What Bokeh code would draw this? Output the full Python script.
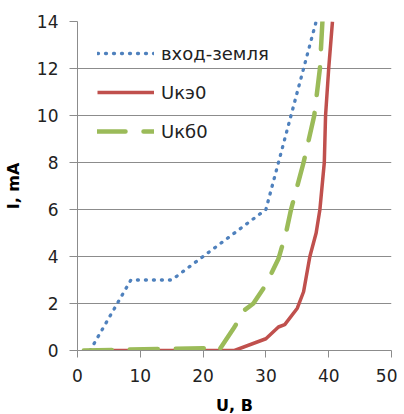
from bokeh.plotting import figure
from bokeh.models import Legend, LegendItem, FixedTicker, Range1d
from bokeh.embed import file_html
from bokeh.resources import INLINE

# ---- data ----
gnd_u = [2, 8.5, 15, 30, 38]
gnd_i = [0, 3, 3, 6, 14]

uke_u = [5, 25, 30, 32, 33, 35, 36, 37, 38, 38.6, 39.3, 39.5, 40, 40.6]
uke_i = [0, 0, 0.5, 1, 1.1, 1.8, 2.5, 4, 5, 6, 8, 10, 12, 14]

ukb_u = [1, 20, 22.5, 25, 26.5, 28, 30, 32, 33.2, 34, 36, 37.7, 38.6, 39]
ukb_i = [0, 0.1, 0, 1, 1.7, 2, 2.8, 3.9, 5, 6, 8, 10, 12, 14]

labels = ["вход-земля", "Uкэ0", "Uкб0"]
x_ticks = [0, 10, 20, 30, 40, 50]
y_ticks = [0, 2, 4, 6, 8, 10, 12, 14]

FONT = "DejaVu Sans"
GRID = "#8c8c8c"

p = figure(frame_width=314, frame_height=329, output_backend="svg",
           toolbar_location=None, x_range=Range1d(0, 50), y_range=Range1d(0, 14),
           min_border_left=66, min_border_top=21, min_border_right=6,
           min_border_bottom=50)
p.outline_line_color = None
p.background_fill_color = "white"
p.border_fill_color = "white"

r1 = p.line(gnd_u, gnd_i, line_color="#4F81BD", line_width=3.3,
            line_dash="1 7", line_cap="round")
r2 = p.line(uke_u, uke_i, line_color="#C0504D", line_width=3.5,
            line_join="round")
r3 = p.line(ukb_u, ukb_i, line_color="#9BBB59", line_width=4.5,
            line_dash="28 18", line_cap="round", line_join="round")

p.xgrid.visible = False
p.ygrid.grid_line_color = GRID
p.ygrid.grid_line_width = 1
p.ygrid.ticker = FixedTicker(ticks=y_ticks)

p.xaxis.ticker = FixedTicker(ticks=x_ticks)
p.yaxis.ticker = FixedTicker(ticks=y_ticks)
for ax in (p.xaxis[0], p.yaxis[0]):
    ax.axis_line_color = GRID
    ax.major_tick_line_color = GRID
    ax.minor_tick_line_color = None
    ax.major_tick_in = 0
    ax.major_label_text_font = FONT
    ax.major_label_text_font_size = "17px"
    ax.major_label_text_color = "#222222"
    ax.axis_label_text_font = FONT
    ax.axis_label_text_font_style = "bold"
    ax.axis_label_text_font_size = "16px"
    ax.axis_label_text_color = "#000000"

p.xaxis.major_tick_out = 7
p.yaxis.major_tick_out = 8
p.xaxis.major_label_standoff = 11
p.yaxis.major_label_standoff = 11
p.xaxis.axis_label = "U, B"
p.yaxis.axis_label = "I, mA"
p.xaxis.axis_label_standoff = 11
p.yaxis.axis_label_standoff = 11

legend = Legend(items=[LegendItem(label=labels[0], renderers=[r1]),
                       LegendItem(label=labels[1], renderers=[r2]),
                       LegendItem(label=labels[2], renderers=[r3])],
                location="top_left", margin=20, padding=10,
                glyph_width=57, glyph_height=24, label_height=24,
                spacing=15, label_standoff=7,
                label_text_font=FONT, label_text_font_size="18px",
                label_text_color="#222222",
                border_line_color=None, background_fill_alpha=0)
p.add_layout(legend)

open("out.html", "w").write(file_html(p, INLINE))
